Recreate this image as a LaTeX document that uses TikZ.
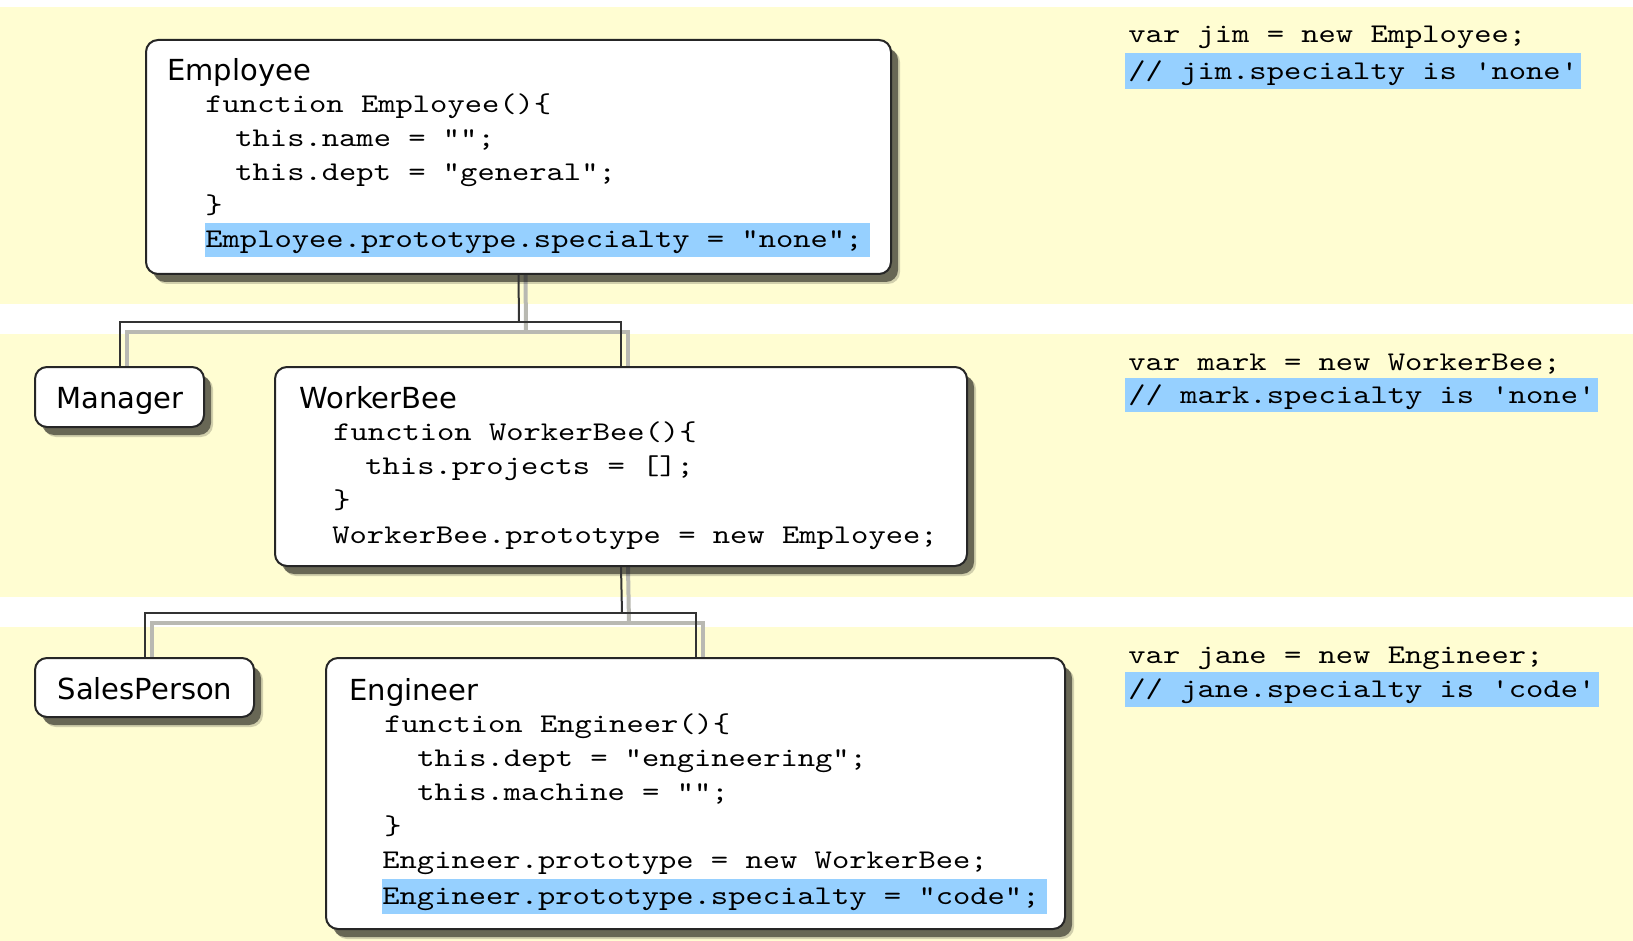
\documentclass[tikz,border=0pt]{standalone}
\usepackage{fontspec}
\newfontfamily\titlefont{DejaVu Sans}
\newfontfamily\codefont[FakeStretch=1.22]{lmmono10-regular.otf}
\usetikzlibrary{fit,shadows}
\definecolor{band}{RGB}{255,253,210}
\definecolor{hl}{RGB}{150,208,255}
\definecolor{connshadow}{RGB}{185,185,178}
\pgfdeclarelayer{back}
\pgfdeclarelayer{mid}
\pgfsetlayers{back,mid,main}
\begin{document}
\begin{tikzpicture}[x=0.5pt,y=-0.5pt,
  box/.style={draw=black!85, line width=1pt, fill=white, rounded corners=6pt, inner sep=0pt,
    drop shadow={shadow xshift=4.5pt, shadow yshift=-5pt, fill=black, opacity=0.18},
    drop shadow={shadow xshift=3.5pt, shadow yshift=-4pt, fill=black, opacity=0.5}},
  hlbox/.style={fill=hl, draw=none, inner sep=0pt},
  title/.style={anchor=base west, inner sep=0pt, font=\titlefont\fontsize{14.5}{17}\selectfont},
  btitle/.style={anchor=base, inner sep=0pt, font=\titlefont\fontsize{14.5}{17}\selectfont},
  code/.style={anchor=base west, inner sep=0pt, font=\codefont\fontsize{13.5}{17}\selectfont},
  conn/.style={draw=black!80, line width=1pt},
  cshadow/.style={draw=connshadow, line width=2pt}]
\useasboundingbox (0,0) rectangle (1633,941);
\begin{pgfonlayer}{back}
  \fill[white] (0,0) rectangle (1633,941);
  \fill[band] (0,7) rectangle (1633,304);
  \fill[band] (0,334) rectangle (1633,597);
  \fill[band] (0,627) rectangle (1633,941);
\end{pgfonlayer}

% Employee
\node[box, fit={(146,40) (891,274)}] (Employee) {};
\node[title] (emp-t) at (167,81) {Employee};
\node[code] (emp-1) at (205,113) {function Employee()\{};
\node[code] (emp-2) at (235,147) {this.name = "";};
\node[code] (emp-3) at (235,181) {this.dept = "general";};
\node[code] (emp-4) at (205,214) {\}};
\node[hlbox, fit={(205,223) (870,257)}] (emp-hl) {};
\node[code] (emp-5) at (205,248) {Employee.prototype.specialty = "none";};

% Manager
\node[box, fit={(35,367) (204,427)}] (Manager) {};
\node[btitle] (man-t) at (120,408) {Manager};

% WorkerBee
\node[box, fit={(275,367) (967,566)}] (WorkerBee) {};
\node[title] (wb-t) at (299,408) {WorkerBee};
\node[code] (wb-1) at (333,440) {function WorkerBee()\{};
\node[code] (wb-2) at (365,474) {this.projects = [];};
\node[code] (wb-3) at (333,508) {\}};
\node[code] (wb-4) at (332,543) {WorkerBee.prototype = new Employee;};

% SalesPerson
\node[box, fit={(35,658) (254,717)}] (SalesPerson) {};
\node[btitle] (sp-t) at (145,699) {SalesPerson};

% Engineer
\node[box, fit={(326,658) (1065,929)}] (Engineer) {};
\node[title] (eng-t) at (349,700) {Engineer};
\node[code] (eng-1) at (384,732) {function Engineer()\{};
\node[code] (eng-2) at (417,766) {this.dept = "engineering";};
\node[code] (eng-3) at (417,800) {this.machine = "";};
\node[code] (eng-4) at (384,834) {\}};
\node[code] (eng-5) at (382,868) {Engineer.prototype = new WorkerBee;};
\node[hlbox, fit={(382,879) (1047,914)}] (eng-hl) {};
\node[code] (eng-6) at (382,904) {Engineer.prototype.specialty = "code";};

% right-hand notes
\node[code] (jim-1) at (1128,43) {var jim = new Employee;};
\node[hlbox, fit={(1125,53) (1581,89)}] (jim-hl) {};
\node[code] (jim-2) at (1128,80) {// jim.specialty is 'none'};
\node[code] (mark-1) at (1128,370) {var mark = new WorkerBee;};
\node[hlbox, fit={(1125,378) (1598,412)}] (mark-hl) {};
\node[code] (mark-2) at (1128,403) {// mark.specialty is 'none'};
\node[code] (jane-1) at (1128,663) {var jane = new Engineer;};
\node[hlbox, fit={(1125,672) (1599,707)}] (jane-hl) {};
\node[code] (jane-2) at (1128,697) {// jane.specialty is 'code'};

% connectors
\coordinate (b1) at (519,322);
\coordinate (b2) at (622,613);
\begin{pgfonlayer}{mid}
  \draw[cshadow] ([shift={(7,0)}]Employee.south) -- ([shift={(7,10)}]b1);
  \draw[cshadow] ([shift={(7,10)}]b1) -| ([shift={(7,10)}]Manager.north);
  \draw[cshadow] ([shift={(7,10)}]b1) -| ([shift={(7,10)}]WorkerBee.north);
  \draw[cshadow] ([shift={(7,0)}]WorkerBee.south) -- ([shift={(7,10)}]b2);
  \draw[cshadow] ([shift={(7,10)}]b2) -| ([shift={(7,10)}]SalesPerson.north);
  \draw[cshadow] ([shift={(7,10)}]b2) -| ([shift={(7,10)}]Engineer.north);
\end{pgfonlayer}
\draw[conn] (Employee.south) -- (b1);
\draw[conn] (b1) -| (Manager.north);
\draw[conn] (b1) -| (WorkerBee.north);
\draw[conn] (WorkerBee.south) -- (b2);
\draw[conn] (b2) -| (SalesPerson.north);
\draw[conn] (b2) -| (Engineer.north);
\end{tikzpicture}
\end{document}
